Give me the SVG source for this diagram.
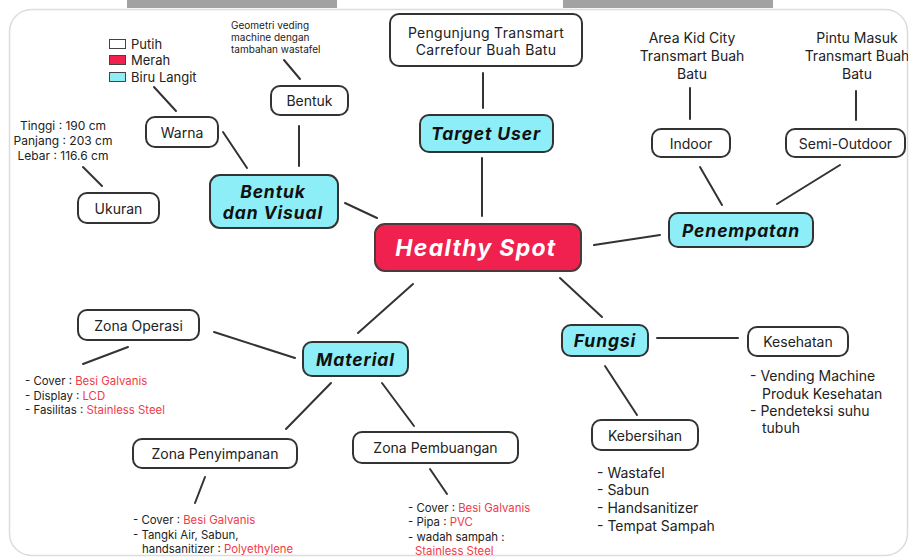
<svg xmlns="http://www.w3.org/2000/svg" width="910" height="558" viewBox="0 0 910 558">
<defs>
<clipPath id="card"><rect x="9" y="9" width="899" height="547" rx="22"/></clipPath>
<style>
.t{font-family:Inter,"Open Sans","Liberation Sans",sans-serif;fill:#222;}
.n{font-size:14px;}
.s{font-size:11.4px;}
.xs{font-size:10px;}
.h{font-size:17.5px;font-weight:bold;font-style:italic;fill:#111;letter-spacing:0.9px;}
.r{fill:#f03a4a;}
.box{fill:#fff;stroke:#333;stroke-width:2;}
.cy{fill:#8eeef7;stroke:#333;stroke-width:2;}
.conn line{stroke:#333;stroke-width:2;stroke-linecap:round;}
</style>
</defs>
<rect width="910" height="558" fill="#fff"/>
<rect x="127" y="0" width="210" height="8" fill="#a2a2a2"/>
<rect x="563" y="0" width="210" height="8" fill="#a2a2a2"/>
<rect x="9.5" y="9.5" width="898" height="546" rx="22" fill="#fff" stroke="#dcdcdc" stroke-width="1.5"/>
<g clip-path="url(#card)">
<g class="conn" id="connectors">
<line x1="483" y1="73" x2="483" y2="108"/>
<line x1="482" y1="158" x2="482" y2="216"/>
<line x1="284" y1="60" x2="300" y2="79"/>
<line x1="299" y1="126" x2="299" y2="166"/>
<line x1="154" y1="87" x2="176" y2="111"/>
<line x1="223" y1="132" x2="247" y2="168"/>
<line x1="83" y1="167" x2="102" y2="186"/>
<line x1="345" y1="203" x2="377" y2="218"/>
<line x1="690" y1="88" x2="690" y2="119"/>
<line x1="856" y1="91" x2="856" y2="120"/>
<line x1="700" y1="167" x2="722" y2="205"/>
<line x1="840" y1="165" x2="777" y2="204"/>
<line x1="594" y1="245" x2="660" y2="235"/>
<line x1="413" y1="284" x2="358" y2="333"/>
<line x1="214" y1="332" x2="295" y2="358"/>
<line x1="128" y1="347" x2="83" y2="364"/>
<line x1="331" y1="383" x2="286" y2="429"/>
<line x1="205" y1="477" x2="195" y2="503"/>
<line x1="382" y1="383" x2="414" y2="426"/>
<line x1="430" y1="469" x2="447" y2="494"/>
<line x1="560" y1="278" x2="602" y2="317"/>
<line x1="657" y1="338" x2="738" y2="338"/>
<line x1="605" y1="366" x2="637" y2="415"/>
</g>

<g id="healthy-spot">
<rect x="375" y="224" width="206" height="47" rx="10" fill="#f0214f" stroke="#4a3a3a" stroke-width="2"/>
<text class="t" x="476" y="248" text-anchor="middle" dominant-baseline="central" style="font-size:23px;font-weight:bold;font-style:italic;fill:#fff;letter-spacing:1.3px">Healthy Spot</text>
</g>

<g id="target-user">
<rect class="cy" x="420" y="115" width="133" height="37" rx="9"/>
<text class="t h" x="486" y="133" text-anchor="middle" dominant-baseline="central">Target User</text>
</g>
<g id="pengunjung">
<rect class="box" x="390" y="14" width="192" height="52" rx="9"/>
<text class="t n" x="486" y="32" text-anchor="middle" dominant-baseline="central" style="letter-spacing:0.3px">Pengunjung Transmart</text>
<text class="t n" x="486" y="49" text-anchor="middle" dominant-baseline="central" style="letter-spacing:0.3px">Carrefour Buah Batu</text>
</g>

<g id="bentuk-visual">
<rect class="cy" x="210" y="175" width="128" height="53" rx="10"/>
<text class="t h" x="273" y="191" text-anchor="middle" dominant-baseline="central">Bentuk</text>
<text class="t h" x="273" y="212" text-anchor="middle" dominant-baseline="central">dan Visual</text>
</g>
<g id="bentuk">
<rect class="box" x="271" y="86" width="77" height="29" rx="9"/>
<text class="t n" x="309.5" y="100.5" text-anchor="middle" dominant-baseline="central">Bentuk</text>
</g>
<g id="geometri">
<text class="t xs" x="231" y="25" dominant-baseline="central">Geometri veding</text>
<text class="t xs" x="231" y="37" dominant-baseline="central">machine dengan</text>
<text class="t xs" x="231" y="49" dominant-baseline="central">tambahan wastafel</text>
</g>
<g id="warna">
<rect class="box" x="146" y="117" width="72" height="30" rx="9"/>
<text class="t n" x="182" y="132" text-anchor="middle" dominant-baseline="central">Warna</text>
</g>
<g id="legend">
<rect x="109.5" y="39.5" width="16" height="9" fill="#fff" stroke="#444" stroke-width="1"/>
<rect x="109.5" y="55.5" width="16" height="9" fill="#f0214f" stroke="#444" stroke-width="1"/>
<rect x="109.5" y="72.5" width="16" height="9" fill="#8eeef7" stroke="#444" stroke-width="1"/>
<text class="t" x="131" y="44" dominant-baseline="central" style="font-size:13px">Putih</text>
<text class="t" x="131" y="60" dominant-baseline="central" style="font-size:13px">Merah</text>
<text class="t" x="131" y="77" dominant-baseline="central" style="font-size:13px">Biru Langit</text>
</g>
<g id="ukuran">
<rect class="box" x="78" y="193" width="81" height="30" rx="9"/>
<text class="t n" x="118.5" y="208" text-anchor="middle" dominant-baseline="central">Ukuran</text>
</g>
<g id="ukuran-detail">
<text class="t" x="63" y="125" text-anchor="middle" dominant-baseline="central" style="font-size:12px">Tinggi : 190 cm</text>
<text class="t" x="63" y="140" text-anchor="middle" dominant-baseline="central" style="font-size:12px">Panjang : 203 cm</text>
<text class="t" x="63" y="155" text-anchor="middle" dominant-baseline="central" style="font-size:12px">Lebar : 116.6 cm</text>
</g>

<g id="penempatan">
<rect class="cy" x="669" y="213" width="144" height="34" rx="9"/>
<text class="t h" x="741" y="230" text-anchor="middle" dominant-baseline="central">Penempatan</text>
</g>
<g id="indoor">
<rect class="box" x="652" y="129" width="78" height="28" rx="9"/>
<text class="t n" x="691" y="143" text-anchor="middle" dominant-baseline="central">Indoor</text>
</g>
<g id="semi-outdoor">
<rect class="box" x="786" y="129" width="119" height="28" rx="9"/>
<text class="t n" x="845.5" y="143" text-anchor="middle" dominant-baseline="central">Semi-Outdoor</text>
</g>
<g id="area-kid">
<text class="t n" x="692" y="37" text-anchor="middle" dominant-baseline="central">Area Kid City</text>
<text class="t n" x="692" y="55" text-anchor="middle" dominant-baseline="central">Transmart Buah</text>
<text class="t n" x="692" y="73" text-anchor="middle" dominant-baseline="central">Batu</text>
</g>
<g id="pintu-masuk">
<text class="t n" x="857" y="37" text-anchor="middle" dominant-baseline="central">Pintu Masuk</text>
<text class="t n" x="857" y="55" text-anchor="middle" dominant-baseline="central">Transmart Buah</text>
<text class="t n" x="857" y="73" text-anchor="middle" dominant-baseline="central">Batu</text>
</g>

<g id="material">
<rect class="cy" x="303" y="342" width="105" height="34" rx="9"/>
<text class="t h" x="355.5" y="359" text-anchor="middle" dominant-baseline="central">Material</text>
</g>
<g id="zona-operasi">
<rect class="box" x="78" y="310" width="121" height="30" rx="9"/>
<text class="t n" x="138.5" y="325" text-anchor="middle" dominant-baseline="central">Zona Operasi</text>
</g>
<g id="zona-operasi-detail">
<text class="t s" x="25" y="381" dominant-baseline="central">- Cover : <tspan class="r">Besi Galvanis</tspan></text>
<text class="t s" x="25" y="396" dominant-baseline="central">- Display : <tspan class="r">LCD</tspan></text>
<text class="t s" x="25" y="410" dominant-baseline="central">- Fasilitas : <tspan class="r">Stainless Steel</tspan></text>
</g>
<g id="zona-penyimpanan">
<rect class="box" x="133" y="439" width="164" height="29" rx="9"/>
<text class="t n" x="215" y="453.5" text-anchor="middle" dominant-baseline="central">Zona Penyimpanan</text>
</g>
<g id="zona-penyimpanan-detail">
<text class="t s" x="133" y="520" dominant-baseline="central">- Cover : <tspan class="r">Besi Galvanis</tspan></text>
<text class="t s" x="133" y="535" dominant-baseline="central">- Tangki Air, Sabun,</text>
<text class="t s" x="142" y="549" dominant-baseline="central">handsanitizer : <tspan class="r">Polyethylene</tspan></text>
</g>
<g id="zona-pembuangan">
<rect class="box" x="353" y="432" width="165" height="31" rx="9"/>
<text class="t n" x="435.5" y="447.5" text-anchor="middle" dominant-baseline="central">Zona Pembuangan</text>
</g>
<g id="zona-pembuangan-detail">
<text class="t s" x="408" y="508" dominant-baseline="central">- Cover : <tspan class="r">Besi Galvanis</tspan></text>
<text class="t s" x="408" y="522" dominant-baseline="central">- Pipa : <tspan class="r">PVC</tspan></text>
<text class="t s" x="408" y="537" dominant-baseline="central">- wadah sampah :</text>
<text class="t s r" x="415" y="551" dominant-baseline="central">Stainless Steel</text>
</g>

<g id="fungsi">
<rect class="cy" x="562" y="325" width="86" height="31" rx="9"/>
<text class="t h" x="605" y="340" text-anchor="middle" dominant-baseline="central">Fungsi</text>
</g>
<g id="kesehatan">
<rect class="box" x="748" y="327" width="100" height="29" rx="9"/>
<text class="t n" x="798" y="341.5" text-anchor="middle" dominant-baseline="central">Kesehatan</text>
</g>
<g id="kesehatan-detail">
<text class="t n" x="750" y="375" dominant-baseline="central">- Vending Machine</text>
<text class="t n" x="762" y="393" dominant-baseline="central">Produk Kesehatan</text>
<text class="t n" x="750" y="410" dominant-baseline="central">- Pendeteksi suhu</text>
<text class="t n" x="762" y="427" dominant-baseline="central">tubuh</text>
</g>
<g id="kebersihan">
<rect class="box" x="592" y="420" width="106" height="30" rx="9"/>
<text class="t n" x="645" y="435" text-anchor="middle" dominant-baseline="central">Kebersihan</text>
</g>
<g id="kebersihan-detail">
<text class="t n" x="597" y="472" dominant-baseline="central">- Wastafel</text>
<text class="t n" x="597" y="489" dominant-baseline="central">- Sabun</text>
<text class="t n" x="597" y="507" dominant-baseline="central">- Handsanitizer</text>
<text class="t n" x="597" y="525" dominant-baseline="central">- Tempat Sampah</text>
</g>
</g>
</svg>
